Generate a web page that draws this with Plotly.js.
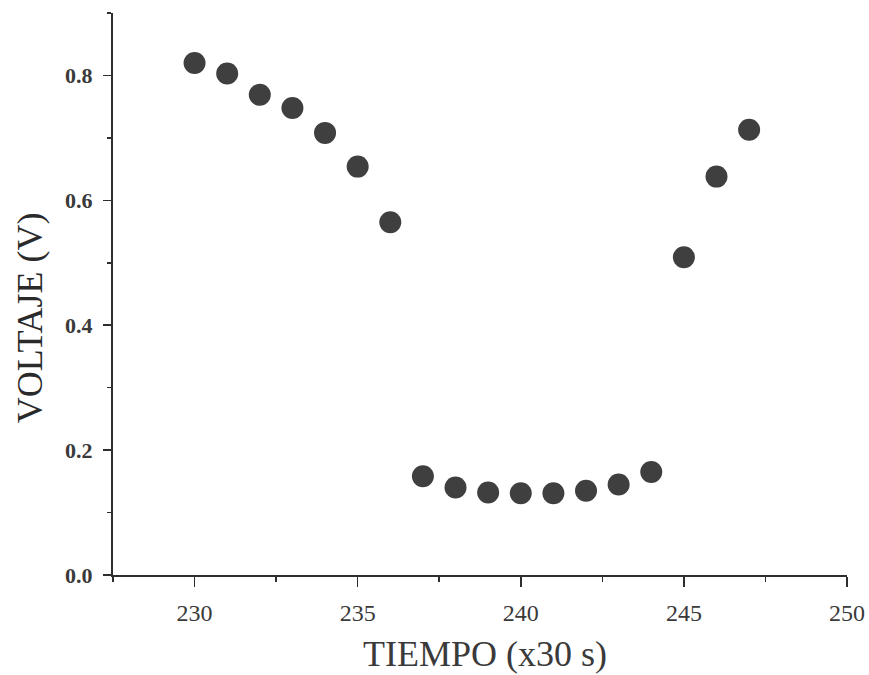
<!DOCTYPE html>
<html>
<head>
<meta charset="utf-8">
<script src="https://cdn.plot.ly/plotly-3.0.1.min.js"></script>
<style>html,body{margin:0;padding:0;background:#fff;}#chart{width:869px;height:675px;}</style>
</head>
<body>
<div id="chart"></div>
<script>
// Data
const tiempo = [230, 231, 232, 233, 234, 235, 236, 237, 238, 239, 240, 241, 242, 243, 244, 245, 246, 247];
const voltaje = [0.820, 0.803, 0.769, 0.748, 0.708, 0.654, 0.565, 0.158, 0.140, 0.132, 0.131, 0.131, 0.135, 0.145, 0.165, 0.509, 0.638, 0.713];
const xTickVals = [230, 235, 240, 245, 250];
const yTickVals = [0.0, 0.2, 0.4, 0.6, 0.8];
const xTitle = 'TIEMPO (x30 s)';
const yTitle = 'VOLTAJE (V)';

const axisColor = '#2e2e2e';
const serif = 'Liberation Serif, Times New Roman, serif';

const trace = {
  x: tiempo,
  y: voltaje,
  type: 'scatter',
  mode: 'markers',
  marker: {size: 22, color: '#3f3f3f', line: {width: 0}},
  hoverinfo: 'x+y',
  showlegend: false
};

const layout = {
  width: 869,
  height: 675,
  margin: {l: 113, r: 22, t: 13, b: 100},
  paper_bgcolor: '#ffffff',
  plot_bgcolor: '#ffffff',
  font: {family: serif, color: '#333'},
  xaxis: {
    range: [227.5, 250],
    tickvals: xTickVals,
    ticks: 'outside',
    ticklen: 10,
    tickwidth: 1.5,
    tickcolor: axisColor,
    ticklabelstandoff: 5,
    tickfont: {family: serif, size: 24, color: '#3a3a3a'},
    showline: true,
    linecolor: axisColor,
    linewidth: 2,
    showgrid: false,
    zeroline: false,
    minor: {dtick: 2.5, ticks: 'outside', ticklen: 5, tickwidth: 1.5, tickcolor: axisColor, showgrid: false}
  },
  yaxis: {
    range: [0, 0.9],
    tickvals: yTickVals,
    tickformat: '.1f',
    ticks: 'outside',
    ticklen: 8,
    tickwidth: 1.5,
    tickcolor: axisColor,
    ticklabelstandoff: 6,
    tickfont: {family: serif, size: 22, color: '#3a3a3a', weight: 'bold'},
    showline: true,
    linecolor: axisColor,
    linewidth: 2,
    showgrid: false,
    zeroline: false,
    minor: {dtick: 0.1, ticks: 'outside', ticklen: 4, tickwidth: 1.5, tickcolor: axisColor, showgrid: false}
  },
  annotations: [
    {
      text: xTitle, xref: 'paper', yref: 'paper', x: 0.507, y: -0.1406,
      xanchor: 'center', yanchor: 'middle', showarrow: false,
      font: {family: serif, size: 36, color: '#3a3a3a'}
    },
    {
      text: yTitle, xref: 'paper', yref: 'paper', x: -0.113, y: 0.457,
      xanchor: 'center', yanchor: 'middle', showarrow: false, textangle: -90,
      font: {family: serif, size: 36, color: '#2a2a2a'}
    }
  ]
};

Plotly.newPlot('chart', [trace], layout, {staticPlot: true, displayModeBar: false});
</script>
</body>
</html>
